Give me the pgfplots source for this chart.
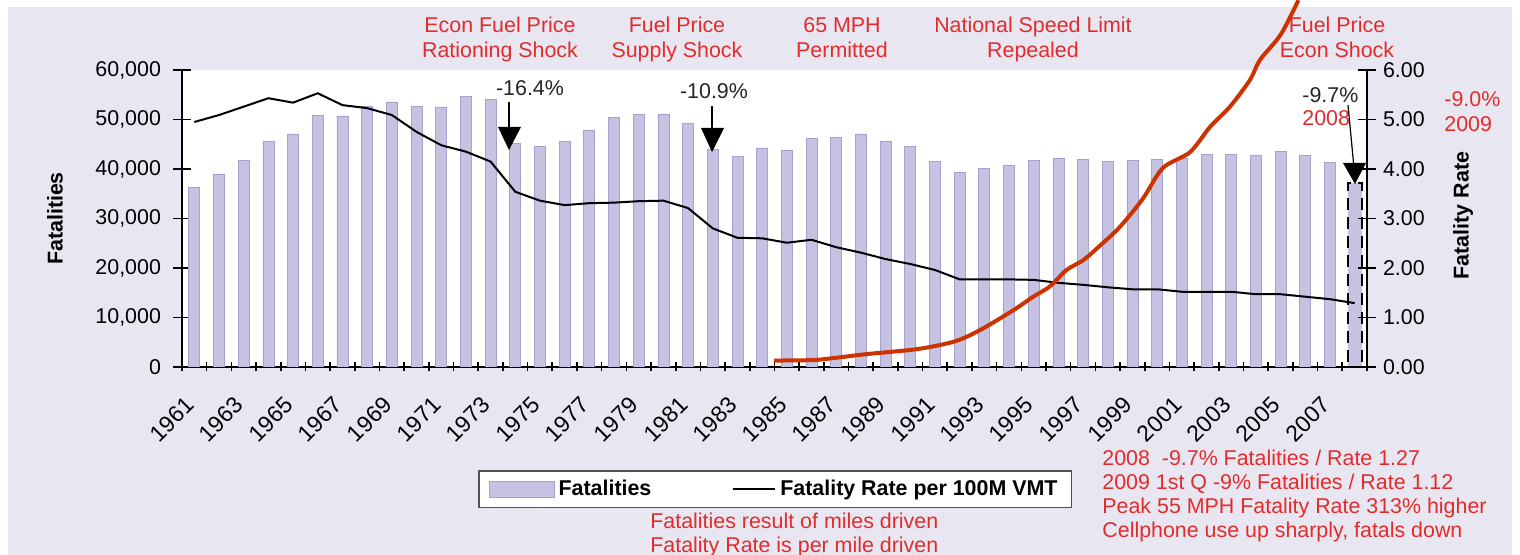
\documentclass[border=0pt]{standalone}
\usepackage{fontspec}
\setmainfont{Liberation Sans}
\usepackage{pgfplots}
\pgfplotsset{compat=1.18}
\usepackage{pgfplotstable}

\definecolor{bgl}{RGB}{232,230,241}
\definecolor{barfill}{RGB}{197,194,226}
\definecolor{bardraw}{RGB}{165,160,205}
\definecolor{redtxt}{RGB}{226,44,44}
\definecolor{redline}{RGB}{204,51,0}
\newcommand{\fs}{\fontsize{10.7}{12.8}\selectfont}
\newcommand{\fy}{\fontsize{11.5}{13.5}\selectfont}

\pgfplotstableread{
year fat rate
1961 36285 4.95
1962 38980 5.09
1963 41723 5.26
1964 45645 5.43
1965 47089 5.34
1966 50894 5.53
1967 50724 5.29
1968 52725 5.23
1969 53543 5.09
1970 52627 4.75
1971 52542 4.48
1972 54589 4.35
1973 54052 4.15
1974 45196 3.54
1975 44525 3.36
1976 45523 3.27
1977 47878 3.31
1978 50331 3.32
1979 51093 3.35
1980 51091 3.36
1981 49301 3.21
1982 43945 2.80
1983 42589 2.61
1984 44257 2.60
1985 43825 2.51
1986 46087 2.57
1987 46390 2.42
1988 47087 2.31
1989 45582 2.18
1990 44599 2.08
1991 41508 1.96
1992 39250 1.77
1993 40150 1.77
1994 40716 1.77
1995 41817 1.76
1996 42065 1.70
1997 42013 1.66
1998 41501 1.61
1999 41717 1.57
2000 41945 1.57
2001 42196 1.52
2002 43005 1.52
2003 42884 1.52
2004 42836 1.47
2005 43510 1.47
2006 42708 1.42
2007 41259 1.37
2008 37261 1.29
}\data

\pgfplotstableread{
x y
1984.48 0.13
1986.07 0.14
1986.88 0.18
1988.23 0.26
1990.26 0.36
1991.61 0.49
1992.28 0.61
1992.95 0.78
1993.63 0.98
1994.31 1.19
1994.98 1.42
1995.66 1.63
1996.33 1.96
1997.01 2.16
1997.68 2.45
1998.49 2.83
1999.42 3.40
2000.23 4.02
2001.33 4.34
2002.14 4.85
2002.95 5.26
2003.76 5.80
2004.16 6.20
2005.01 6.72
2005.72 7.41
}\cell

\begin{document}
\begin{tikzpicture}
\fill[white] (-91pt,-94pt) rectangle (669pt,183.5pt);
\fill[bgl] (-87pt,-94pt) rectangle (665pt,180pt);

\begin{axis}[
  at={(0pt,0pt)}, anchor=south west,
  scale only axis, width=592.5pt, height=148.5pt,
  xmin=1960.5, xmax=2008.5, ymin=0, ymax=60000,
  axis x line*=bottom, axis y line*=left,
  axis line style={line width=1.2pt, -},
  axis background/.style={fill=white},
  tick align=center,
  major tick length=9pt, minor tick length=4.5pt,
  tick style={black, line width=0.8pt},
  xtick={1961,1963,...,2007},
  minor xtick={1960.5,1961.5,...,2008.5},
  every major x tick/.append style={draw=none},
  x tick label style={/pgf/number format/1000 sep={}, xshift=-2pt, yshift=-12.5pt, rotate=45, anchor=east, inner sep=0pt, font=\fy},
  ytick={0,10000,...,60000},
  scaled y ticks=false,
  y tick label style={font=\fs, xshift=-2.5pt},
  /pgf/number format/assume math mode=true,
  every axis y label/.style={at={(axis description cs:-0.1072,0.5)}, rotate=90, anchor=center, font=\fs\bfseries},
  ylabel={Fatalities},
]
\addplot[ybar, bar width=5.5pt, bar shift=0pt, fill=barfill, draw=bardraw, line width=0.4pt,
  restrict x to domain=1961:2007] table[x=year, y=fat] {\data};
\addplot[ybar, bar width=7pt, bar shift=0pt, fill=barfill, draw=black, line width=1pt,
  dash pattern=on 6pt off 3.5pt, restrict x to domain=2008:2008] table[x=year, y=fat] {\data};
\end{axis}

\begin{axis}[
  at={(0pt,0pt)}, anchor=south west,
  scale only axis, width=592.5pt, height=148.5pt,
  xmin=1960.5, xmax=2008.5, ymin=0, ymax=6,
  axis x line=none, axis y line*=right,
  axis line style={line width=1.2pt, -},
  clip=false,
  tick align=center, major tick length=9pt,
  tick style={black, line width=0.8pt},
  ytick={0,1,...,6},
  y tick label style={/pgf/number format/fixed, /pgf/number format/fixed zerofill, /pgf/number format/precision=2, font=\fs},
  /pgf/number format/assume math mode=true,
  every axis y label/.style={at={(axis description cs:1.081,0.51)}, rotate=90, anchor=center, font=\fs\bfseries},
  ylabel={Fatality Rate},
  legend style={at={(axis description cs:0.2498,-0.3468)}, anchor=north west,
    draw={rgb,255:red,80;green,80;blue,80}, line width=0.8pt, fill=white,
    font=\fs\bfseries, inner xsep=5pt, inner ysep=2.5pt,
    /tikz/every even column/.append style={column sep=38.5pt}},
  legend columns=2, legend cell align=left,
]
\addlegendimage{legend image code/.code={\draw[fill=barfill, draw=bardraw, line width=0.4pt] (0pt,-4pt) rectangle (32.5pt,4pt);}}
\addlegendentry{Fatalities}
\addplot[black, line width=1pt, legend image code/.code={\draw[black, line width=1pt] (0pt,0pt) -- (21pt,0pt);}] table[x=year, y=rate] {\data};
\addlegendentry{Fatality Rate per 100M VMT}
\addplot[redline, line width=2pt, smooth, tension=0.5, forget plot] table[x=x, y=y] {\cell};
\end{axis}

\begin{scope}[x=0.5pt, y=-0.5pt, shift={(-91pt,183.5pt)}, every node/.style={font=\fs, inner sep=0pt}]
  % top annotations
  \node[redtxt, anchor=base] at (500,33) {Econ Fuel Price};
  \node[redtxt, anchor=base] at (500,58) {Rationing Shock};
  \node[redtxt, anchor=base] at (677,33) {Fuel Price};
  \node[redtxt, anchor=base] at (677,58) {Supply Shock};
  \node[redtxt, anchor=base] at (842,33) {65 MPH};
  \node[redtxt, anchor=base] at (842,58) {Permitted};
  \node[redtxt, anchor=base] at (1033,33) {National Speed Limit};
  \node[redtxt, anchor=base] at (1033,58) {Repealed};
  \node[redtxt, anchor=base] at (1337,33) {Fuel Price};
  \node[redtxt, anchor=base] at (1337,58) {Econ Shock};
  % percentages
  \node[black!85, anchor=base] at (530,95.5) {-16.4\%};
  \node[black!85, anchor=base] at (714,98.5) {-10.9\%};
  \node[black!85, anchor=base west] at (1302,102.5) {-9.7\%};
  \node[redtxt, anchor=base west] at (1302,126) {2008};
  \node[redtxt, anchor=base west] at (1444,107) {-9.0\%};
  \node[redtxt, anchor=base west] at (1444,132) {2009};
  % arrows
  \draw[black, line width=0.6pt] (509,102) -- (509,130);
  \fill[black] (498,127) -- (521,127) -- (509,150) -- cycle;
  \draw[black, line width=0.6pt] (712,106) -- (712,130);
  \fill[black] (701,128) -- (724,128) -- (712,152) -- cycle;
  \draw[black, line width=0.6pt] (1348,105) -- (1354,168);
  \fill[black] (1343,163) -- (1366,163) -- (1355,184) -- cycle;
  % bottom notes
  \node[redtxt, anchor=base west] at (1102,465.5) {2008\ \ -9.7\% Fatalities / Rate 1.27};
  \node[redtxt, anchor=base west] at (1102,489.5) {2009 1st Q -9\% Fatalities / Rate 1.12};
  \node[redtxt, anchor=base west] at (1102,513.5) {Peak 55 MPH Fatality Rate 313\% higher};
  \node[redtxt, anchor=base west] at (1102,538) {Cellphone use up sharply, fatals down};
  \node[redtxt, anchor=base west] at (650,528.5) {Fatalities result of miles driven};
  \node[redtxt, anchor=base west] at (650,552.5) {Fatality Rate is per mile driven};
\end{scope}

\pgfresetboundingbox
\useasboundingbox (-91pt,-94pt) rectangle (669pt,183.5pt);
\end{tikzpicture}
\end{document}
